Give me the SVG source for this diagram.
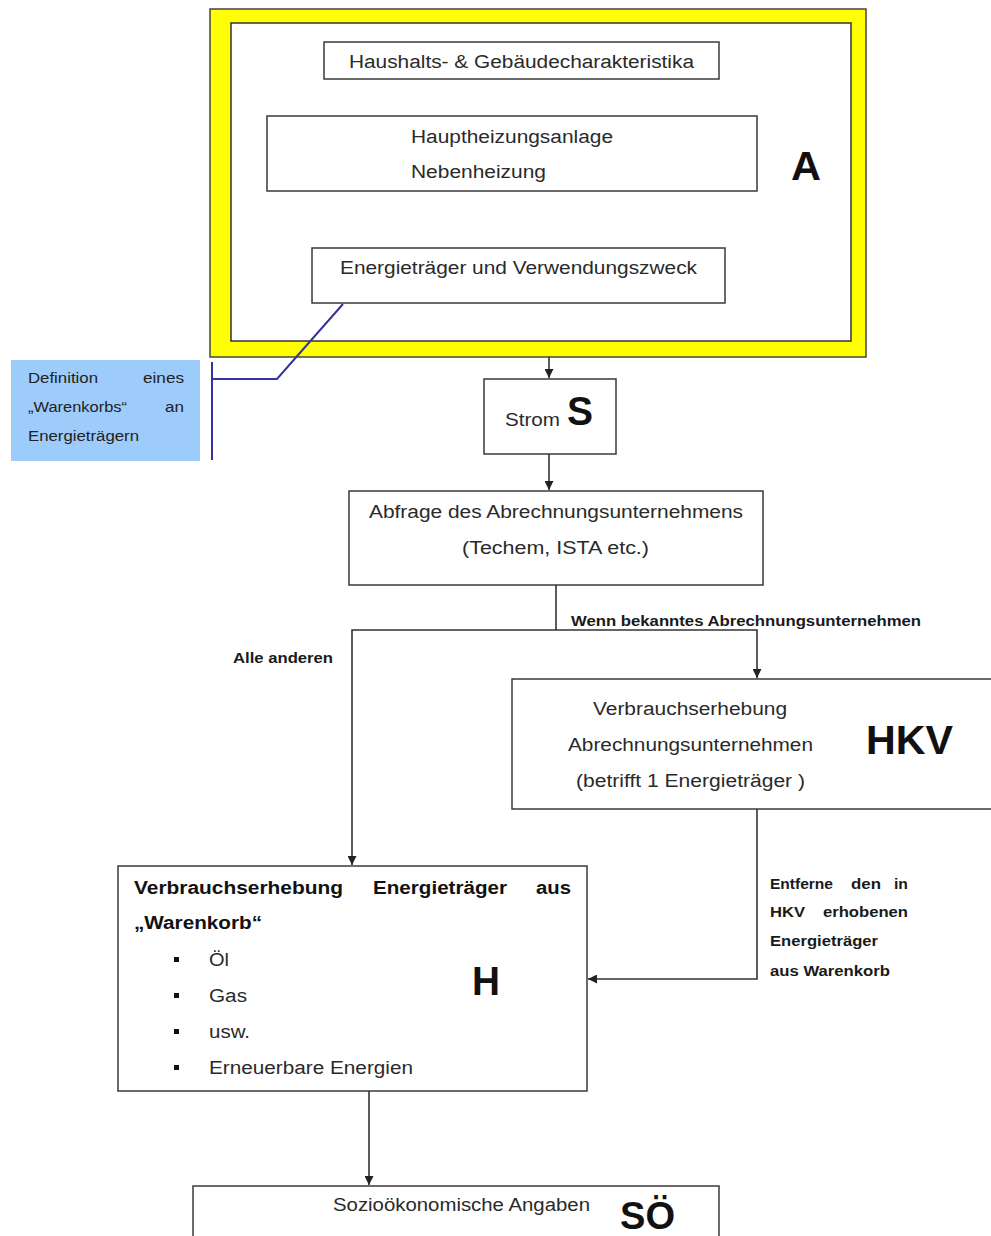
<svg xmlns="http://www.w3.org/2000/svg" width="991" height="1236" viewBox="0 0 991 1236">
<style>
.box{fill:#fff;stroke:#3a3a3a;stroke-width:1.5}
.t{font-family:"Liberation Sans",Arial,sans-serif;font-size:18px;fill:#2a2a2a}
.b{font-family:"Liberation Sans",Arial,sans-serif;font-weight:bold;fill:#111}
.s{font-family:"Liberation Sans",Arial,sans-serif;font-weight:bold;font-size:14px;fill:#1a1a1a}
.c{font-family:"Liberation Sans",Arial,sans-serif;font-size:14px;fill:#222}
.ln{fill:none;stroke:#333;stroke-width:1.6}
.cl{fill:none;stroke:#333399;stroke-width:2}
</style>
<defs>
<marker id="ah" viewBox="0 0 10 10" refX="10" refY="5" markerWidth="9" markerHeight="9" markerUnits="userSpaceOnUse" orient="auto">
<path d="M0,0 L10,5 L0,10 Z" fill="#222"/>
</marker>
</defs>
<rect width="991" height="1236" fill="#fff"/>

<g id="frameA">
<rect x="210" y="9" width="656" height="348" fill="#ffff00" stroke="#444" stroke-width="1.5"/>
<rect x="231" y="23" width="620" height="318" fill="#fff" stroke="#333" stroke-width="1.5"/>
<text class="b" x="791" y="180" font-size="40" textLength="30" lengthAdjust="spacingAndGlyphs">A</text>
</g>
<g id="haushalt">
<rect class="box" x="324" y="42" width="395" height="37"/>
<text class="t" x="349" y="68" textLength="345" lengthAdjust="spacingAndGlyphs">Haushalts- &amp; Gebäudecharakteristika</text>
</g>
<g id="heizung">
<rect class="box" x="267" y="116" width="490" height="75"/>
<text class="t" x="411" y="143" textLength="202" lengthAdjust="spacingAndGlyphs">Hauptheizungsanlage</text>
<text class="t" x="411" y="178" textLength="135" lengthAdjust="spacingAndGlyphs">Nebenheizung</text>
</g>
<g id="energietraeger">
<rect class="box" x="312" y="248" width="413" height="55"/>
<text class="t" x="340" y="274" textLength="357" lengthAdjust="spacingAndGlyphs">Energieträger und Verwendungszweck</text>
</g>

<g id="callout">
<rect x="11" y="360" width="189" height="101" fill="#9dcbfa"/>
<text class="c" x="28" y="383" textLength="70" lengthAdjust="spacingAndGlyphs">Definition</text>
<text class="c" x="143" y="383" textLength="41" lengthAdjust="spacingAndGlyphs">eines</text>
<text class="c" x="28" y="412" textLength="99" lengthAdjust="spacingAndGlyphs">„Warenkorbs“</text>
<text class="c" x="165" y="412" textLength="19" lengthAdjust="spacingAndGlyphs">an</text>
<text class="c" x="28" y="441" textLength="111" lengthAdjust="spacingAndGlyphs">Energieträgern</text>
<path class="cl" d="M212,362 V460 M212,379 H277 L343,304"/>
</g>

<g id="strom">
<rect class="box" x="484" y="379" width="132" height="75"/>
<text class="t" x="505" y="426" font-size="17" textLength="55" lengthAdjust="spacingAndGlyphs">Strom</text>
<text class="b" x="567" y="425" font-size="40" textLength="26" lengthAdjust="spacingAndGlyphs">S</text>
</g>
<g id="abfrage">
<rect class="box" x="349" y="491" width="414" height="94"/>
<text class="t" x="369" y="518" textLength="374" lengthAdjust="spacingAndGlyphs">Abfrage des Abrechnungsunternehmens</text>
<text class="t" x="462" y="554" textLength="187" lengthAdjust="spacingAndGlyphs">(Techem, ISTA etc.)</text>
</g>
<g id="hkv">
<rect class="box" x="512" y="679" width="485" height="130"/>
<text class="t" x="593" y="715" textLength="194" lengthAdjust="spacingAndGlyphs">Verbrauchserhebung</text>
<text class="t" x="568" y="751" textLength="245" lengthAdjust="spacingAndGlyphs">Abrechnungsunternehmen</text>
<text class="t" x="576" y="787" textLength="229" lengthAdjust="spacingAndGlyphs">(betrifft 1 Energieträger )</text>
<text class="b" x="866" y="754" font-size="40" textLength="87" lengthAdjust="spacingAndGlyphs">HKV</text>
</g>
<g id="h">
<rect class="box" x="118" y="866" width="469" height="225"/>
<text class="b" x="134" y="894" font-size="18" textLength="209" lengthAdjust="spacingAndGlyphs">Verbrauchserhebung</text>
<text class="b" x="373" y="894" font-size="18" textLength="134" lengthAdjust="spacingAndGlyphs">Energieträger</text>
<text class="b" x="536" y="894" font-size="18" textLength="35" lengthAdjust="spacingAndGlyphs">aus</text>
<text class="b" x="134" y="929" font-size="18" textLength="128" lengthAdjust="spacingAndGlyphs">„Warenkorb“</text>
<rect x="174" y="957" width="5" height="5" fill="#111"/>
<rect x="174" y="993" width="5" height="5" fill="#111"/>
<rect x="174" y="1029" width="5" height="5" fill="#111"/>
<rect x="174" y="1065" width="5" height="5" fill="#111"/>
<text class="t" x="209" y="966" textLength="20" lengthAdjust="spacingAndGlyphs">Öl</text>
<text class="t" x="209" y="1002" textLength="38" lengthAdjust="spacingAndGlyphs">Gas</text>
<text class="t" x="209" y="1038" textLength="41" lengthAdjust="spacingAndGlyphs">usw.</text>
<text class="t" x="209" y="1074" textLength="204" lengthAdjust="spacingAndGlyphs">Erneuerbare Energien</text>
<text class="b" x="472" y="995" font-size="40" textLength="28" lengthAdjust="spacingAndGlyphs">H</text>
</g>
<g id="soe">
<rect class="box" x="193" y="1186" width="526" height="60"/>
<text class="t" x="333" y="1211" textLength="257" lengthAdjust="spacingAndGlyphs">Sozioökonomische Angaben</text>
<text class="b" x="620" y="1229" font-size="38" textLength="55" lengthAdjust="spacingAndGlyphs">SÖ</text>
</g>

<g id="connectors">
<path class="ln" d="M549,357 V378" marker-end="url(#ah)"/>
<path class="ln" d="M549,454 V490" marker-end="url(#ah)"/>
<path class="ln" d="M556,585 V630"/>
<path class="ln" d="M556,630 H757 V678" marker-end="url(#ah)"/>
<path class="ln" d="M556,630 H352 V865" marker-end="url(#ah)"/>
<path class="ln" d="M757,809 V979 H588" marker-end="url(#ah)"/>
<path class="ln" d="M369,1091 V1185" marker-end="url(#ah)"/>
<text class="s" x="571" y="626" textLength="350" lengthAdjust="spacingAndGlyphs">Wenn bekanntes Abrechnungsunternehmen</text>
<text class="s" x="233" y="663" textLength="100" lengthAdjust="spacingAndGlyphs">Alle anderen</text>
<text class="s" x="770" y="889" textLength="63" lengthAdjust="spacingAndGlyphs">Entferne</text>
<text class="s" x="851" y="889" textLength="30" lengthAdjust="spacingAndGlyphs">den</text>
<text class="s" x="894" y="889" textLength="14" lengthAdjust="spacingAndGlyphs">in</text>
<text class="s" x="770" y="917" textLength="35" lengthAdjust="spacingAndGlyphs">HKV</text>
<text class="s" x="823" y="917" textLength="85" lengthAdjust="spacingAndGlyphs">erhobenen</text>
<text class="s" x="770" y="946" textLength="108" lengthAdjust="spacingAndGlyphs">Energieträger</text>
<text class="s" x="770" y="976" textLength="120" lengthAdjust="spacingAndGlyphs">aus Warenkorb</text>
</g>
</svg>
